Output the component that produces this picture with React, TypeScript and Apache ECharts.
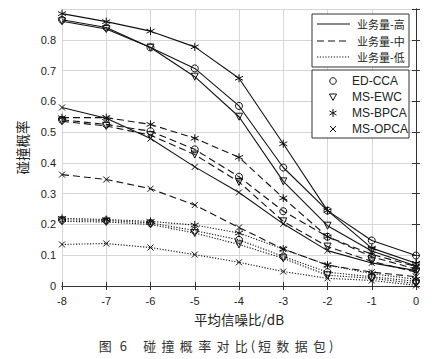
import React, { useEffect, useRef } from "react";
import * as echarts from "echarts";

const snr = [-8, -7, -6, -5, -4, -3, -2, -1, 0];
const yTicks = ["0", "0.1", "0.2", "0.3", "0.4", "0.5", "0.6", "0.7", "0.8"];

// 业务量-高
const highCCA = [0.865, 0.84, 0.775, 0.707, 0.585, 0.385, 0.245, 0.148, 0.099];
const highEWC = [0.86, 0.835, 0.775, 0.68, 0.55, 0.34, 0.196, 0.114, 0.065];
const highBPCA = [0.885, 0.859, 0.828, 0.777, 0.675, 0.462, 0.245, 0.123, 0.074];
const highOPCA = [0.58, 0.545, 0.479, 0.387, 0.304, 0.202, 0.115, 0.075, 0.05];
// 业务量-中
const midCCA = [0.54, 0.525, 0.503, 0.444, 0.355, 0.243, 0.16, 0.095, 0.055];
const midEWC = [0.535, 0.52, 0.49, 0.427, 0.338, 0.21, 0.128, 0.08, 0.045];
const midBPCA = [0.547, 0.547, 0.525, 0.48, 0.418, 0.286, 0.16, 0.103, 0.063];
const midOPCA = [0.362, 0.346, 0.316, 0.263, 0.19, 0.12, 0.068, 0.045, 0.03];
// 业务量-低
const lowCCA = [0.215, 0.213, 0.205, 0.18, 0.15, 0.096, 0.045, 0.03, 0.015];
const lowEWC = [0.21, 0.208, 0.2, 0.172, 0.135, 0.09, 0.035, 0.025, 0.008];
const lowBPCA = [0.22, 0.216, 0.21, 0.198, 0.172, 0.12, 0.068, 0.04, 0.022];
const lowOPCA = [0.135, 0.138, 0.125, 0.102, 0.077, 0.047, 0.025, 0.018, 0.002];

const loadNames = ["业务量-高", "业务量-中", "业务量-低"];
const algoNames = ["ED-CCA", "MS-EWC", "MS-BPCA", "MS-OPCA"];
const caption = ["图", "6", "", "碰", "撞", "概", "率", "对", "比", "(", "短", "数", "据", "包", ")"];

const INK = "#111";
const ASTER = "path://M5 0L5 10M0.7 2.5L9.3 7.5M9.3 2.5L0.7 7.5";
const CROSS = "path://M0 0L10 10M10 0L0 10";

const lineTypes: any[] = ["solid", [7, 4], [1.2, 1.6]];
const symbolDefs: any[] = [
  { symbol: "circle", size: 7, rotate: 0 },
  { symbol: "triangle", size: 7, rotate: 180 },
  { symbol: ASTER, size: 8, rotate: 0 },
  { symbol: CROSS, size: 6, rotate: 0 },
];

const table = [
  [highCCA, highEWC, highBPCA, highOPCA],
  [midCCA, midEWC, midBPCA, midOPCA],
  [lowCCA, lowEWC, lowBPCA, lowOPCA],
];

export default function App() {
  const ref = useRef<HTMLDivElement>(null);
  useEffect(() => {
    if (!ref.current) return;
    const chart = echarts.init(ref.current, null, { renderer: "svg" });
    const series: any[] = [];
    table.forEach((row, li) => {
      row.forEach((vals, ai) => {
        const s = symbolDefs[ai];
        series.push({
          name: loadNames[li] + " " + algoNames[ai],
          type: "line",
          data: snr.map((x, i) => [x, vals[i]]),
          symbol: s.symbol,
          symbolSize: s.size,
          symbolRotate: s.rotate,
          showAllSymbol: true,
          lineStyle: { color: INK, width: 1.1, type: lineTypes[li] },
          itemStyle: { color: "rgba(0,0,0,0)", borderColor: INK, borderWidth: 1 },
          emphasis: { disabled: true },
          z: 3,
        });
      });
    });

    const axisFont = { fontFamily: "Liberation Sans, Arial, sans-serif", fontSize: 11, color: "#222" };
    const lx = 312;
    const legendGraphics: any[] = [
      { type: "rect", shape: { x: lx, y: 14, width: 97, height: 53 }, style: { fill: "#fff", stroke: "#333", lineWidth: 1 }, z: 100 },
      { type: "rect", shape: { x: lx, y: 70, width: 97, height: 68 }, style: { fill: "#fff", stroke: "#333", lineWidth: 1 }, z: 100 },
    ];
    const lineYs = [24, 41, 57];
    loadNames.forEach((n, i) => {
      legendGraphics.push({
        type: "line",
        shape: { x1: 317, y1: lineYs[i], x2: 350, y2: lineYs[i] },
        style: { stroke: INK, lineWidth: 1, lineDash: i === 0 ? null : lineTypes[i] },
        z: 101,
      });
      legendGraphics.push({
        type: "text",
        x: 357,
        y: lineYs[i],
        style: { text: n, fontFamily: "Noto Sans CJK SC", fontSize: 11, fill: "#222", verticalAlign: "middle" },
        z: 101,
      });
    });
    const mY = [81, 97, 113, 129];
    const mx = 333;
    legendGraphics.push({ type: "circle", shape: { cx: mx, cy: mY[0], r: 3.3 }, style: { fill: "none", stroke: INK, lineWidth: 1 }, z: 101 });
    legendGraphics.push({ type: "polygon", shape: { points: [[mx - 3.6, mY[1] - 3], [mx + 3.6, mY[1] - 3], [mx, mY[1] + 3.4]] }, style: { fill: "none", stroke: INK, lineWidth: 1 }, z: 101 });
    const ay = mY[2];
    [[0, -4, 0, 4], [-3.5, -2, 3.5, 2], [3.5, -2, -3.5, 2]].forEach((d) => {
      legendGraphics.push({ type: "line", shape: { x1: mx + d[0], y1: ay + d[1], x2: mx + d[2], y2: ay + d[3] }, style: { stroke: INK, lineWidth: 1 }, z: 101 });
    });
    const cy = mY[3];
    [[-3, -3, 3, 3], [3, -3, -3, 3]].forEach((d) => {
      legendGraphics.push({ type: "line", shape: { x1: mx + d[0], y1: cy + d[1], x2: mx + d[2], y2: cy + d[3] }, style: { stroke: INK, lineWidth: 1 }, z: 101 });
    });
    algoNames.forEach((n, i) => {
      legendGraphics.push({
        type: "text",
        x: 352,
        y: mY[i],
        style: { text: n, fontFamily: "Liberation Sans, Arial, sans-serif", fontSize: 12, fill: "#222", verticalAlign: "middle" },
        z: 101,
      });
    });

    const capText = caption
      .map((c) => (c === "" ? "{s|}" : c === "(" || c === ")" ? "{p|" + c + "}" : "{c|" + c + "}"))
      .join("");
    legendGraphics.push({
      type: "text",
      x: 96,
      y: 345,
      style: {
        text: capText,
        verticalAlign: "middle",
        rich: {
          c: { width: 18.3, align: "center", fontSize: 13, fontFamily: "Noto Sans CJK SC", fill: "#333" },
          p: { width: 5, align: "center", fontSize: 13, fontFamily: "Noto Sans CJK SC", fill: "#333" },
          s: { width: 8 },
        },
      },
    });

    chart.setOption({
      animation: false,
      grid: { left: 62, right: 27, top: 9, bottom: 73 },
      xAxis: [
        {
          type: "value",
          min: -8,
          max: 0,
          interval: 1,
          name: "平均信噪比/dB",
          nameLocation: "middle",
          nameGap: 26,
          nameTextStyle: { fontFamily: "Noto Sans CJK SC", fontSize: 13.5, color: "#222" },
          axisLine: { show: true, lineStyle: { color: "#333", width: 1 } },
          axisTick: { show: true, inside: true, length: 4, lineStyle: { color: "#333" } },
          axisLabel: { ...axisFont, margin: 9 },
          splitLine: { show: true, lineStyle: { color: "#d6d6d6", width: 1 } },
        },
        {
          type: "value",
          position: "top",
          min: -8,
          max: 0,
          interval: 1,
          axisLine: { show: true, lineStyle: { color: "#333", width: 1 } },
          axisTick: { show: true, inside: true, length: 4, lineStyle: { color: "#333" } },
          axisLabel: { show: false },
          splitLine: { show: false },
        },
      ],
      yAxis: [
        {
          type: "value",
          min: 0,
          max: 0.9,
          interval: 0.1,
          name: "碰撞概率",
          nameLocation: "middle",
          nameGap: 33,
          nameTextStyle: { fontFamily: "Noto Sans CJK SC", fontSize: 13.5, color: "#222" },
          axisLine: { show: true, lineStyle: { color: "#333", width: 1 } },
          axisTick: { show: true, inside: true, length: 4, lineStyle: { color: "#333" } },
          axisLabel: {
            ...axisFont,
            margin: 6,
            formatter: (v: number) => {
              const idx = Math.round(v * 10);
              return idx < yTicks.length ? yTicks[idx] : "";
            },
          },
          splitLine: { show: true, lineStyle: { color: "#d6d6d6", width: 1 } },
        },
        {
          type: "value",
          position: "right",
          min: 0,
          max: 0.9,
          interval: 0.1,
          axisLine: { show: true, lineStyle: { color: "#333", width: 1 } },
          axisTick: { show: true, inside: true, length: 4, lineStyle: { color: "#333" } },
          axisLabel: { show: false },
          splitLine: { show: false },
        },
      ],
      graphic: legendGraphics,
      series,
    });
    return () => chart.dispose();
  }, []);
  return (
    <div
      ref={ref}
      style={{ position: "absolute", left: 0, top: 0, width: 443, height: 359, background: "#fff" }}
    />
  );
}
